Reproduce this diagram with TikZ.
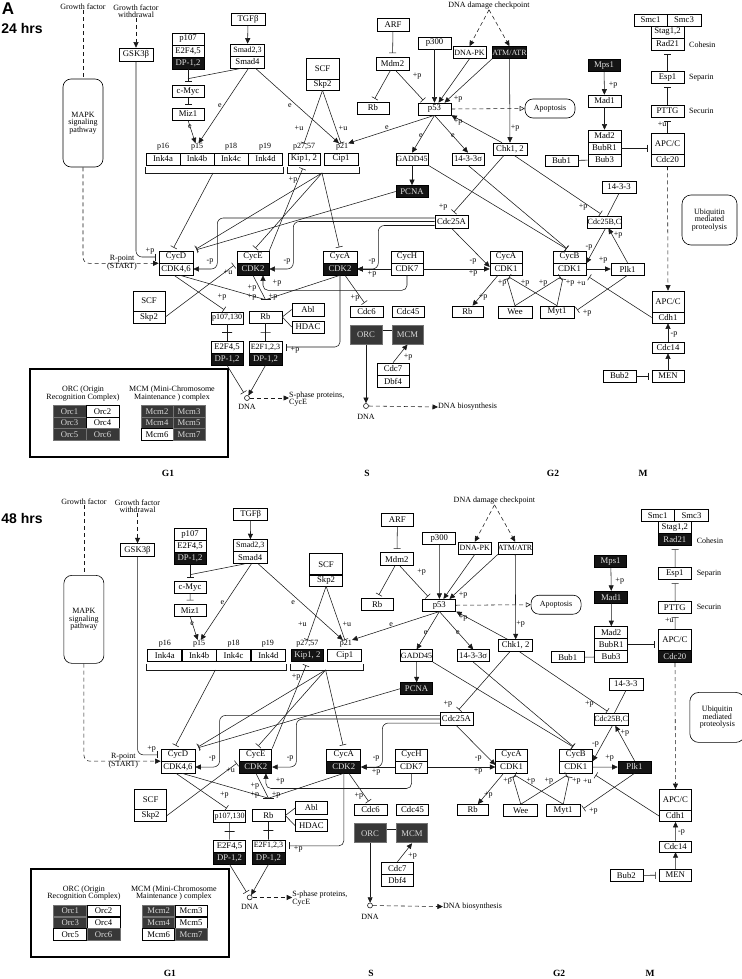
\documentclass[tikz,border=0pt]{standalone}
\usepackage{fontspec}
\setmainfont{Liberation Serif}
\newfontfamily\hvb{Liberation Sans}
\usetikzlibrary{arrows.meta}
\newcounter{lc}
\newcommand\mylab[3]{\stepcounter{lc}\node[lbl] (lab\arabic{lc}) at (#1,#2) {#3};}
\tikzset{
 gb/.style={draw=black, line width=0.6pt, fill=white, inner sep=0pt, minimum width=33pt, minimum height=12pt, font=\fontsize{8.7}{9}\selectfont, text=black},
 nw/.style={font=\fontsize{8}{9}\selectfont},
 dk/.style={fill=black!92, text=black!12},
 dg/.style={fill=black!78, draw=black!55, text=black!15},
 rbx/.style={draw=black, line width=0.6pt, inner sep=0pt, align=center, font=\fontsize{8}{7.5}\selectfont},
 lbl/.style={inner sep=0pt, font=\fontsize{8}{8}\selectfont},
 ln/.style={line width=0.55pt, draw=black!90},
 ar/.style={ln, -{Triangle[length=5.5pt,width=5pt]}},
 ib/.style={ln, -{Bar[width=7pt]}, shorten >=3.5pt},
 ib0/.style={ln, -{Bar[width=7pt]}},
 dsh/.style={ln, dash pattern=on 4pt off 3pt},
 dar/.style={dsh, -{Triangle[length=5.5pt,width=5pt]}},
 midbar/.style={draw=black!90, line width=0.55pt, inner sep=0pt, outer sep=0pt, minimum width=10pt, minimum height=0pt},
 phase/.style={inner sep=0pt, font=\bfseries\fontsize{9.5}{10}\selectfont},
 vATM/.style={}, vKip/.style={}, vMad1/.style={}, vRad21/.style={}, vCdc20/.style={}, vPlk1/.style={},
 vOrc5/.style={}, vMcm3/.style={}, vMcm5/.style={},
}
\newcommand\drawpanel{%
% ---------- nodes
\node[lbl] (gf) at (83,7) {Growth factor};
\node[lbl, align=center, font=\fontsize{8}{7.5}\selectfont] (gfw) at (136,11) {Growth factor\\withdrawal};
\node[lbl] (ddc) at (489,6) {DNA damage checkpoint};
\node[rbx, rounded corners=8pt, minimum width=40pt, minimum height=88pt] (mapk) at (83,123) {MAPK\\signaling\\pathway};
\node[gb, minimum width=34, minimum height=13] (gsk) at (136,54.5) {GSK3β};
\node[gb, minimum width=32] (p107) at (188,39) {p107};
\node[gb, minimum width=32] (e2f45t) at (188,51) {E2F4,5};
\node[gb, minimum width=32, dk] (dp12t) at (188,63) {DP-1,2};
\node[gb, minimum width=32] (cmyc) at (188,91.5) {c-Myc};
\node[gb, minimum width=32] (miz1) at (188,114) {Miz1};
\node[gb, minimum width=34] (tgfb) at (248,19) {TGFβ};
\node[gb, minimum width=34, nw] (smad23) at (247.5,50) {Smad2,3};
\node[gb, minimum width=34] (smad4) at (247.5,62) {Smad4};
\node[gb, minimum width=34] (ink4a) at (163,159) {Ink4a};
\node[gb, minimum width=34] (ink4b) at (197,159) {Ink4b};
\node[gb, minimum width=34] (ink4c) at (231,159) {Ink4c};
\node[gb, minimum width=34] (ink4d) at (265.5,159) {Ink4d};
\node[lbl] (p16) at (163,147) {p16};
\node[lbl] (p15) at (197,147) {p15};
\node[lbl] (p18) at (231,147) {p18};
\node[lbl] (p19) at (265,147) {p19};
\node[gb, minimum width=33, minimum height=21] (scft) at (322.5,68.5) {SCF};
\node[gb, minimum width=33, minimum height=11] (skp2t) at (322.5,84.5) {Skp2};
\node[gb, minimum width=32, vKip] (kip) at (304,159) {Kip1, 2};
\node[gb, minimum width=34] (cip) at (341,159) {Cip1};
\node[lbl] (p2757) at (304,147) {p27,57};
\node[lbl] (p21) at (342,147) {p21};
\node[gb, minimum width=32, minimum height=13] (arf) at (393,24.5) {ARF};
\node[gb, minimum width=33, minimum height=13] (mdm2) at (392.5,63.5) {Mdm2};
\node[gb, minimum width=32] (rba) at (373,108) {Rb};
\node[gb, minimum width=33] (p300) at (434.5,43) {p300};
\node[gb, minimum width=33, nw] (dnapk) at (469.5,52.5) {DNA-PK};
\node[gb, minimum width=33, nw, vATM] (atm) at (509.5,52.5) {ATM/ATR};
\node[gb, minimum width=33] (p53) at (434.5,109) {p53};
\node[rbx, rounded corners=8pt, minimum width=50pt, minimum height=19pt] (apop) at (550,108.5) {Apoptosis};
\node[gb, minimum width=32, nw] (gadd) at (412,159) {GADD45};
\node[gb, minimum width=32] (sig) at (468,159) {14-3-3σ};
\node[gb, minimum width=32, dk] (pcna) at (412,191.5) {PCNA};
\node[gb, minimum width=33, minimum height=13] (c25a) at (451.5,221.5) {Cdc25A};
\node[gb, minimum width=34] (chk) at (510,149) {Chk1, 2};
\node[gb, minimum width=32, dk] (mps1) at (604,65.5) {Mps1};
\node[gb, minimum width=33, vMad1] (mad1) at (604.5,101) {Mad1};
\node[gb, minimum width=33] (mad2) at (604.5,136) {Mad2};
\node[gb, minimum width=33] (bubr1) at (604.5,148) {BubR1};
\node[gb, minimum width=33] (bub3) at (604.5,160) {Bub3};
\node[gb, minimum width=33, minimum height=11] (bub1) at (561.5,160.5) {Bub1};
\node[gb, minimum width=33] (smc1) at (650.5,20) {Smc1};
\node[gb, minimum width=34] (smc3) at (684,20) {Smc3};
\node[gb, minimum width=33] (stag) at (667.5,32) {Stag1,2};
\node[gb, minimum width=33, vRad21] (rad21) at (667.5,44) {Rad21};
\node[gb, minimum width=33] (esp1) at (667.5,77.5) {Esp1};
\node[gb, minimum width=33] (pttg) at (667.5,111) {PTTG};
\node[gb, minimum width=33, minimum height=21] (apc1) at (667.5,143.5) {APC/C};
\node[gb, minimum width=33, vCdc20] (cdc20) at (667.5,160) {Cdc20};
\node[lbl, anchor=west] (coh) at (689,45) {Cohesin};
\node[lbl, anchor=west] (sep) at (689,78) {Separin};
\node[lbl, anchor=west] (sec) at (689,111) {Securin};
\node[gb, minimum width=34] (s1433) at (619,187) {14-3-3};
\node[gb, minimum width=33, nw] (c25bc) at (604.5,222) {Cdc25B,C};
\node[rbx, rounded corners=9pt, minimum width=55pt, minimum height=50pt] (ubiq) at (709.5,220) {Ubiquitin\\mediated\\proteolysis};
\node[gb, minimum width=34] (cycd) at (176,257) {CycD};
\node[gb, minimum width=34] (cdk46) at (176,269) {CDK4,6};
\node[gb, minimum width=32] (cyce) at (253,257) {CycE};
\node[gb, minimum width=32, dk] (cdk2e) at (253,269) {CDK2};
\node[gb, minimum width=34] (cyca) at (340,257) {CycA};
\node[gb, minimum width=34, dk] (cdk2a) at (340,269) {CDK2};
\node[gb, minimum width=32] (cych) at (407,257) {CycH};
\node[gb, minimum width=32] (cdk7) at (407,269) {CDK7};
\node[gb, minimum width=32] (cyca1) at (506,257) {CycA};
\node[gb, minimum width=32] (cdk1a) at (506,269) {CDK1};
\node[gb, minimum width=33] (cycb) at (569.5,257) {CycB};
\node[gb, minimum width=33] (cdk1b) at (569.5,269) {CDK1};
\node[gb, minimum width=33, vPlk1] (plk1) at (627.5,269) {Plk1};
\node[gb, minimum width=32, minimum height=20] (scfb) at (149,301) {SCF};
\node[gb, minimum width=32] (skp2b) at (149,317) {Skp2};
\node[gb, minimum width=32, nw] (p107b) at (227,318) {p107,130};
\node[gb, minimum width=32] (e2f45b) at (227,347) {E2F4,5};
\node[gb, minimum width=32, dk] (dp12b) at (227,359) {DP-1,2};
\node[gb, minimum width=33] (rbb) at (265.5,317) {Rb};
\node[gb, minimum width=32, minimum height=13] (abl) at (308,309.5) {Abl};
\node[gb, minimum width=32] (hdac) at (308,327) {HDAC};
\node[gb, minimum width=33, nw] (e2f123) at (265.5,347) {E2F1,2,3};
\node[gb, minimum width=33, dk] (dp12c) at (265.5,359) {DP-1,2};
\node[gb, minimum width=33, minimum height=11] (cdc6) at (366.5,311.5) {Cdc6};
\node[gb, minimum width=32, minimum height=11] (cdc45) at (408,311.5) {Cdc45};
\node[gb, minimum width=32, minimum height=19, dg, line width=1pt] (orc) at (366,334.5) {ORC};
\node[gb, minimum width=31, minimum height=19, dg, line width=1pt] (mcm) at (407.5,334.5) {MCM};
\node[gb, minimum width=32] (cdc7) at (393,369) {Cdc7};
\node[gb, minimum width=32] (dbf4) at (393,381) {Dbf4};
\node[gb, minimum width=31, minimum height=11] (rbc) at (467.5,311.5) {Rb};
\node[gb, minimum width=34] (wee) at (515,312) {Wee};
\node[gb, minimum width=34] (myt1) at (557,312) {Myt1};
\node[gb, minimum width=32, minimum height=21] (apc2) at (668,301.5) {APC/C};
\node[gb, minimum width=32, minimum height=11] (cdh1) at (668,317.5) {Cdh1};
\node[gb, minimum width=32, minimum height=11] (cdc14) at (668,347.5) {Cdc14};
\node[gb, minimum width=32] (men) at (668,376) {MEN};
\node[gb, minimum width=33] (bub2) at (619.5,376) {Bub2};
\node[circle, draw=black!90, line width=0.6pt, inner sep=0pt, minimum size=5pt] (dna1) at (247,398) {};
\node[lbl] (dna1l) at (247,407) {DNA};
\node[circle, draw=black!90, line width=0.6pt, inner sep=0pt, minimum size=5pt] (dna2) at (366,406) {};
\node[lbl] (dna2l) at (366,417) {DNA};
\node[lbl, anchor=west, align=left, font=\fontsize{8}{7.5}\selectfont] (sph) at (289,399) {S-phase proteins,\\CycE};
\node[lbl, anchor=west] (dbs) at (438,407) {DNA biosynthesis};
\node[lbl, align=center, font=\fontsize{8}{7}\selectfont] (rpt) at (122,263) {R-point\\(START)};
% legend
\node[draw=black, line width=2pt, minimum width=198pt, minimum height=88pt, inner sep=0pt] (leg) at (129,413) {};
\node[lbl, align=center, font=\fontsize{8}{7.3}\selectfont] (orct) at (83,393.5) {ORC (Origin\\Recognition Complex)};
\node[lbl, align=center, font=\fontsize{8}{7.3}\selectfont] (mcmt) at (172,393.5) {MCM (Mini-Chromosome\\Maintenance ) complex};
\node[gb, minimum height=11.5, dg] (orc1) at (69.5,411.5) {Orc1};
\node[gb, minimum height=11.5] (orc2) at (102.5,411.5) {Orc2};
\node[gb, minimum height=11.5, dg] (orc3) at (69.5,423) {Orc3};
\node[gb, minimum height=11.5] (orc4) at (102.5,423) {Orc4};
\node[gb, minimum height=11.5, vOrc5] (orc5) at (69.5,434.5) {Orc5};
\node[gb, minimum height=11.5, dg] (orc6) at (102.5,434.5) {Orc6};
\node[gb, minimum width=32, minimum height=11.5, dg] (mcm2) at (157,411.5) {Mcm2};
\node[gb, minimum width=32, minimum height=11.5, vMcm3] (mcm3) at (189,411.5) {Mcm3};
\node[gb, minimum width=32, minimum height=11.5, dg] (mcm4) at (157,423) {Mcm4};
\node[gb, minimum width=32, minimum height=11.5, vMcm5] (mcm5) at (189,423) {Mcm5};
\node[gb, minimum width=32, minimum height=11.5] (mcm6) at (157,434.5) {Mcm6};
\node[gb, minimum width=32, minimum height=11.5, dg] (mcm7) at (189,434.5) {Mcm7};
\node[phase] (g1) at (168,473) {G1};
\node[phase] (ps) at (367,473) {S};
\node[phase] (g2) at (553,473) {G2};
\node[phase] (pm) at (643,473) {M};
% brackets
\draw[ln] (145,167) -- (145,173) -- (283,173) -- (283,167);
\coordinate (inkb) at (213,173);
\draw[ln] (287,167) -- (287,173) -- (359,173) -- (359,167);
\coordinate (kipb) at (322,173);
% ---------- edges
\draw[dsh] (gf.south) -- (mapk.north);
\draw[dar, rounded corners=6] (mapk.south) |- (cycd.south west);
\draw[dar] (gfw.south) -- (gsk.north);
\draw[ib, rounded corners=6] (gsk.south) |- (cycd.west);
\draw[ar] (tgfb) -- (smad23);
\draw[ib] (dp12t.south) -- (cmyc.north);
\draw[ln] ([xshift=-6]smad4.south) -- ([yshift=6.5]cmyc.north);
\draw[ib] (cmyc) -- (miz1);
\draw[ar] (miz1.south) -- ([xshift=-1.5]p15.north);
\draw[ar] ([xshift=1]smad4.south) -- ([xshift=1.5]p15.north);
\draw[ar] ([xshift=8]smad4.south) -- ([xshift=-3]p21.north);
\draw[ib0] (skp2t.south) -- (p2757.north);
\draw[ib0] (skp2t.south) -- ([xshift=-1]p21.north);
\draw[ib] (arf) -- (mdm2);
\draw[ib] ([xshift=-2]mdm2.south) -- (rba.north);
\draw[ib] ([xshift=3]mdm2.south) -- ([xshift=-9]p53.north);
\draw[ar] (p300) -- (p53);
\draw[ar] (dnapk.south) -- ([xshift=4]p53.north);
\draw[ar] (atm.south west) -- ([xshift=10]p53.north);
\draw[ar] ([xshift=-8]chk.north) -- (p53.south east);
\draw[dsh, -{Triangle[open,length=5pt,width=5pt]}] (p53.east) -- (apop.west);
\draw[ar] (p53.south) -- (p21.north east);
\draw[ar] (p53.south) -- (gadd.north);
\draw[ar] (p53.south) -- (sig.north);
\draw[ar] (gadd) -- (pcna);
\draw[dar] (ddc.south) -- (dnapk.north);
\draw[dar] (ddc.south) -- (atm.north);
\draw[ar] (atm) -- (chk);
\draw[ar] (mps1) -- (mad1);
\draw[ar] (mad1) -- (mad2);
\draw[ib] (bubr1.east) -- (bubr1.east -| apc1.west);
\draw[ln] (bub1) -- (bub3);
\draw[ib] (apc1) -- (pttg);
\draw[ib] (pttg) -- (esp1);
\draw[ib] (esp1) -- (rad21);
\draw[dar] (cdc20.south) -- (apc2.north);
\draw[ib] ([xshift=-6]chk.south) -- (c25a.north);
\draw[ib] ([xshift=4]chk.south) -- ([xshift=-1]c25bc.north);
\draw[ln] (s1433.south) -- ([xshift=3]c25bc.north);
\draw[ib] (gadd.south east) -- (cycb.north);
\draw[ib] (sig.south) -- (cycb.north);
\draw[ar] ([xshift=1]c25bc.south) -- (cycb.south east);
\draw[ar] (cdk1b) -- (plk1);
\draw[ar] (plk1.north) -- ([xshift=4]c25bc.south);
\draw[ib] (plk1.south) -- (myt1.east);
\draw[ib] (wee.north) -- (cdk1a.south);
\draw[ib] (wee.north) -- ([xshift=-6]cdk1b.south);
\draw[ib] (myt1.north) -- (cdk1a.south);
\draw[ib] (myt1.north) -- ([xshift=-6]cdk1b.south);
\draw[ib] (cdh1.west) -- (cdk1b.south east);
\draw[ar] (cdc14) -- (cdh1);
\draw[ar] (men) -- (cdc14);
\draw[ib] (bub2) -- (men);
\draw[ar] (cdk7.west) -- (cdk2a.east);
\draw[ar] (cdk7.east) -- (cdk1a.west);
\draw[ar, rounded corners=5] (cdk7.south) -- ++(0,15) -| ([xshift=10]cdk2e.south);
\draw[ar, rounded corners=6] ([yshift=3.5]c25a.west) -| ([xshift=24]cdk46.east) -- (cdk46.east);
\draw[ar, rounded corners=6] (c25a.west) -| ([xshift=24]cdk2e.east) -- (cdk2e.east);
\draw[ar, rounded corners=6] ([yshift=-4]c25a.west) -| ([xshift=21]cdk2a.east) -- (cdk2a.east);
\draw[ar] (c25a.south) -- ([yshift=2]cdk1a.west);
\draw[ib] (inkb) -- ([xshift=-4]cycd.north);
\draw[ib] (kipb) -- (cycd.north east);
\draw[ib] (kipb) -- (cyce.north);
\draw[ib] (kipb) -- (cyca.north);
\draw[ib] (pcna.west) -- (cycd.north east);
\draw[ib] (cyce.north east) -- (kip.south);
\draw[ib] (skp2b.east) -- (cyce.south west);
\draw[ib] ([xshift=-2]cdk46.south) -- (p107b.north);
\coordinate (rbbar) at ([yshift=11]rbb.north);
\draw[ln] ([xshift=4]cdk46.south) -- (rbbar);
\draw[ln] (cdk2e.south) -- (rbbar);
\draw[ln] (cdk2a.south) -- (rbbar);
\draw[ln] ([xshift=-5]rbbar) -- ([xshift=5]rbbar);
\draw[ln] (rbb.east) -- (abl.west);
\draw[ln] (rbb.east) -- (hdac.west);
\draw[ln] (p107b) -- node[midbar] (mb1) {} (e2f45b);
\draw[ln] (rbb) -- node[midbar] (mb2) {} (e2f123);
\draw[ib] (dp12b.south) -- (dna1);
\draw[ar] (dp12c.south) -- (dna1);
\draw[dar] (dna1.east) -- (dna1.east -| sph.west);
\draw[ib, rounded corners=5] (cdk2a.south) |- (e2f123.east);
\draw[ib] ([xshift=5]cdk2a.south) -- (cdc6.north);
\draw[ln] ([yshift=4]orc.east) -- ([yshift=4]mcm.west);
\draw[ar] (orc.south) -- (dna2.north);
\draw[ar] (cdc7.north) -- (mcm.south);
\draw[dar] (dna2.east) -- (dbs.west);
\draw[ar] ([xshift=-8]cdk1a.south) -- ([xshift=5]rbc.north);
% ---------- small labels
\mylab{190}{127}{e}\mylab{220}{106}{e}\mylab{290}{106}{e}\mylab{387}{128}{e}\mylab{421}{136}{e}\mylab{453}{136}{e}
\mylab{299}{128}{+u}\mylab{343}{128}{+u}\mylab{662}{124}{+u}\mylab{228}{272}{+u}\mylab{581}{283}{+u}
\mylab{417}{76}{+p}\mylab{458}{99}{+p}\mylab{458}{122}{+p}\mylab{515}{128}{+p}\mylab{613}{85}{+p}
\mylab{443}{207}{+p}\mylab{583}{207}{+p}\mylab{618}{235}{+p}\mylab{603}{260}{+p}\mylab{587}{313}{+p}
\mylab{502}{283}{+p}\mylab{543}{283}{+p}\mylab{525}{283}{+p}\mylab{570}{283}{+p}
\mylab{150}{251}{+p}\mylab{222}{297}{+p}\mylab{252}{288}{+p}\mylab{252}{297}{+p}\mylab{273}{297}{+p}
\mylab{277}{283}{+p}\mylab{372}{274}{+p}\mylab{473}{273}{+p}\mylab{295}{350}{+p}\mylab{355}{298}{+p}
\mylab{408}{357}{+p}\mylab{483}{297}{+p}\mylab{293}{180}{+p}
\mylab{589}{247}{-p}\mylab{674}{334}{-p}\mylab{210}{261}{-p}\mylab{287}{261}{-p}\mylab{372}{261}{-p}\mylab{473}{261}{-p}
}
\begin{document}
\begin{tikzpicture}[x=1pt, y=-1pt]
\fill[white] (0,0) rectangle (741,979);
\useasboundingbox (0,0) rectangle (741,979);
\node[inner sep=0pt, font=\hvb\bfseries\fontsize{17}{17}\selectfont] (lettA) at (8,9) {A};
\node[inner sep=0pt, font=\hvb\bfseries\fontsize{14}{14}\selectfont] (h24) at (22,28) {24 hrs};
\node[inner sep=0pt, font=\hvb\bfseries\fontsize{14}{14}\selectfont] (h48) at (22,518) {48 hrs};
\begin{scope}[vATM/.style=dk, vOrc5/.style=dg, vMcm3/.style=dg, vMcm5/.style=dg]
\drawpanel
\end{scope}
\begin{scope}[shift={(0,495)}, scale=1.011, vKip/.style=dk, vMad1/.style=dk, vRad21/.style=dk, vCdc20/.style=dk, vPlk1/.style=dk]
\drawpanel
\end{scope}
\end{tikzpicture}
\end{document}
